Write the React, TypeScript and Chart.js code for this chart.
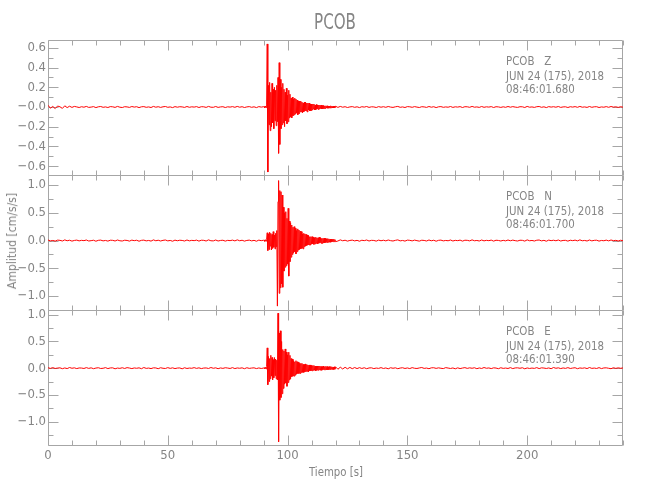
import React, { useEffect, useRef } from 'react';
import { Chart, registerables } from 'chart.js';

Chart.register(...registerables);

// ---------- time grid of the traces (seconds) ----------
const PRE_START = 0;
const PRE_STEP = 1;
const ACTIVE_START = 90.25;
const ACTIVE_STEP = 0.25;
const CODA_START = 121;
const CODA_STEP = 1;

// ---------- axes ----------
const X_MIN = 0;
const X_MAX = 240;
const xMajorTicks = [0, 50, 100, 150, 200];
const xMinorTicks = [10, 20, 30, 40, 60, 70, 80, 90, 110, 120, 130, 140, 160, 170, 180, 190, 210, 220, 230, 240];

const zRange = [-0.69, 0.68];
const zTicks = [0.6, 0.4, 0.2, 0, -0.2, -0.4, -0.6];
const zTickLabels = ['0.6', '0.4', '0.2', '\u22120.0', '\u22120.2', '\u22120.4', '\u22120.6'];
const zMinorTicks = [0.5, 0.3, 0.1, -0.1, -0.3, -0.5];

const nRange = [-1.25, 1.18];
const nTicks = [1.0, 0.5, 0, -0.5, -1.0];
const nTickLabels = ['1.0', '0.5', '0.0', '\u22120.5', '\u22121.0'];
const nMinorTicks = [0.75, 0.25, -0.25, -0.75];

const eRange = [-1.44, 1.09];
const eTicks = [1.0, 0.5, 0, -0.5, -1.0];
const eTickLabels = ['1.0', '0.5', '0.0', '\u22120.5', '\u22121.0'];
const eMinorTicks = [0.75, 0.25, -0.25, -0.75, -1.25];

// ---------- texts ----------
const TITLE = 'PCOB';
const X_TITLE = 'Tiempo [s]';
const Y_TITLE = 'Amplitud [cm/s/s]';
const zInfo = ['PCOB   Z', 'JUN 24 (175), 2018', '08:46:01.680'];
const nInfo = ['PCOB   N', 'JUN 24 (175), 2018', '08:46:01.700'];
const eInfo = ['PCOB   E', 'JUN 24 (175), 2018', '08:46:01.390'];

// ---------- Z component (cm/s/s) ----------
const zPre = [
  0.018, -0.012, 0.006, -0.016, 0.01, 0.002, -0.014, 0.012, -0.006, 0.008,
  -0.004, 0.006, 0.001, -0.005, 0.003, -0.002, 0.006, -0.004, -0.001, 0.004,
  -0.006, 0.002, 0.005, -0.003, 0.001, -0.005, 0.004, 0.002, -0.004, 0.006,
  -0.002, -0.005, 0.003, 0.001, -0.004, 0.005, -0.001, 0.003, -0.006, 0.002,
  0.004, -0.003, 0.001, -0.005, 0.006, -0.002, 0.003, -0.004, 0.002, 0.005,
  -0.003, 0.001, -0.006, 0.004, -0.002, 0.003, 0.001, -0.004, 0.005, -0.003,
  0.002, -0.001, 0.004, -0.005, 0.003, 0.002, -0.004, 0.006, -0.002, -0.003,
  0.005, -0.004, 0.001, 0.003, -0.005, 0.002, -0.001, 0.004, -0.003, 0.006,
  -0.002, 0.003, -0.005, 0.001, 0.004, -0.003, 0.002, -0.006, 0.004, -0.001, 0.003,
];
const zActive = [
  0.005, -0.008, 0.01, -0.006, 0.03, 0.64, -0.66, 0.22, -0.18, 0.25,
  -0.24, 0.15, -0.2, 0.24, -0.16, 0.18, -0.22, 0.2, -0.14, 0.17,
  -0.19, 0.22, -0.15, 0.3, -0.47, 0.45, -0.38, 0.28, -0.22, 0.2,
  -0.18, 0.24, -0.16, 0.18, -0.2, 0.15, -0.14, 0.19, -0.17, 0.12,
  -0.15, 0.17, -0.11, 0.13, -0.1, 0.09, -0.11, 0.1, -0.09, 0.08,
  -0.08, 0.09, -0.07, 0.08, -0.06, 0.07, -0.08, 0.06, -0.07, 0.06,
  -0.05, 0.06, -0.05, 0.05, -0.06, 0.04, -0.05, 0.05, -0.04, 0.05,
  -0.04, 0.04, -0.05, 0.04, -0.03, 0.04, -0.04, 0.03, -0.04, 0.03,
  -0.03, 0.03, -0.02, 0.03, -0.03, 0.02, -0.03, 0.025, -0.02, 0.02,
  -0.025, 0.02, -0.02, 0.02, -0.015, 0.02, -0.02, 0.015, -0.02, 0.015,
  -0.015, 0.012, -0.015, 0.012, -0.01, 0.012, -0.012, 0.01, -0.012, 0.01,
  -0.01, 0.012, -0.008, 0.01, -0.01, 0.008, -0.01, 0.008, -0.007, 0.008,
];
const zCoda = [
  -0.004, 0.006, -0.002, 0.003, -0.005, 0.001, 0.004, -0.003, 0.002, -0.006,
  0.003, -0.001, 0.005, -0.004, 0.002, 0.001, -0.005, 0.004, -0.002, 0.003,
  -0.003, 0.005, -0.001, -0.004, 0.002, 0.006, -0.003, 0.001, -0.005, 0.004,
  0.002, -0.003, 0.004, -0.001, -0.005, 0.003, 0.001, -0.004, 0.005, -0.002,
  0.003, -0.006, 0.002, 0.004, -0.003, 0.001, -0.002, 0.005, -0.004, 0.002,
  -0.001, 0.004, -0.005, 0.003, 0.002, -0.003, 0.006, -0.002, 0.001, -0.004,
  0.005, -0.003, 0.002, -0.001, 0.004, -0.005, 0.003, 0.001, -0.004, 0.002,
  -0.003, 0.005, -0.002, 0.004, -0.001, -0.004, 0.003, 0.002, -0.005, 0.006,
  -0.002, 0.001, -0.004, 0.003, 0.005, -0.003, 0.002, -0.006, 0.004, -0.001,
  0.003, -0.002, 0.005, -0.004, 0.001, 0.002, -0.005, 0.003, -0.001, 0.004,
  -0.003, 0.006, -0.002, 0.001, -0.004, 0.005, -0.003, 0.002, 0.003, -0.005,
  0.001, -0.002, 0.004, -0.003, 0.005, -0.001, 0.002, -0.004, 0.003, -0.002,
  0.004, -0.003, 0.001, -0.002, 0.003,
];

// ---------- N component (cm/s/s) ----------
const nPre = [
  0.01, -0.006, 0.002, -0.01, 0.008, 0.004, -0.008, 0.012, -0.004, 0.006,
  -0.01, 0.002, 0.008, -0.006, 0.004, -0.002, 0.01, -0.008, -0.002, 0.006,
  -0.012, 0.004, 0.008, -0.006, 0.002, -0.01, 0.006, 0.004, -0.008, 0.01,
  -0.004, -0.008, 0.006, 0.002, -0.01, 0.008, -0.002, 0.006, -0.012, 0.004,
  0.008, -0.006, 0.002, -0.01, 0.012, -0.004, 0.006, -0.008, 0.004, 0.01,
  -0.006, 0.002, -0.012, 0.008, -0.004, 0.006, 0.002, -0.008, 0.01, -0.006,
  0.004, -0.002, 0.008, -0.01, 0.006, 0.004, -0.008, 0.012, -0.004, -0.006,
  0.01, -0.008, 0.002, 0.006, -0.01, 0.004, -0.002, 0.008, -0.006, 0.012,
  -0.004, 0.006, -0.01, 0.002, 0.008, -0.006, 0.004, -0.012, 0.008, -0.002, 0.006,
];
const nActive = [
  0.01, -0.015, 0.015, -0.01, 0.02, 0.14, -0.18, 0.12, -0.16, 0.15,
  -0.1, 0.13, -0.17, 0.11, -0.14, 0.16, -0.12, 0.1, -0.15, 0.13,
  -0.11, 0.18, -1.18, 0.7, 1.08, -0.95, 0.9, -0.85, 0.88, -0.78,
  0.82, -0.84, 0.6, -0.55, 0.5, -0.48, 0.52, -0.45, 0.4, -0.42,
  0.58, -0.64, 0.35, -0.38, 0.32, -0.3, 0.28, -0.25, 0.24, -0.22,
  0.25, -0.2, 0.22, -0.24, 0.18, -0.2, 0.21, -0.17, 0.19, -0.16,
  0.17, -0.15, 0.16, -0.14, 0.12, -0.15, 0.13, -0.11, 0.12, -0.1,
  0.11, -0.09, 0.1, -0.08, 0.09, -0.08, 0.07, -0.08, 0.07, -0.06,
  0.07, -0.06, 0.06, -0.07, 0.05, -0.06, 0.06, -0.05, 0.05, -0.06,
  0.05, -0.05, 0.06, -0.04, 0.05, -0.05, 0.04, -0.05, 0.04, -0.04,
  0.045, -0.04, 0.04, -0.035, 0.03, -0.035, 0.035, -0.03, 0.03, -0.03,
  0.025, -0.03, 0.025, -0.025, 0.02, -0.02, 0.025, -0.02, 0.018, -0.02,
];
const nCoda = [
  -0.008, 0.012, -0.004, 0.006, -0.01, 0.002, 0.008, -0.006, 0.004, -0.012,
  0.006, -0.002, 0.01, -0.008, 0.004, 0.002, -0.01, 0.008, -0.004, 0.006,
  -0.006, 0.01, -0.002, -0.008, 0.004, 0.012, -0.006, 0.002, -0.01, 0.008,
  0.004, -0.006, 0.008, -0.002, -0.01, 0.006, 0.002, -0.008, 0.01, -0.004,
  0.006, -0.012, 0.004, 0.008, -0.006, 0.002, -0.004, 0.01, -0.008, 0.004,
  -0.002, 0.008, -0.01, 0.006, 0.004, -0.006, 0.012, -0.004, 0.002, -0.008,
  0.01, -0.006, 0.004, -0.002, 0.008, -0.01, 0.006, 0.002, -0.008, 0.004,
  -0.006, 0.01, -0.004, 0.008, -0.002, -0.008, 0.006, 0.004, -0.01, 0.012,
  -0.004, 0.002, -0.008, 0.006, 0.01, -0.006, 0.004, -0.012, 0.008, -0.002,
  0.006, -0.004, 0.01, -0.008, 0.002, 0.004, -0.01, 0.006, -0.002, 0.008,
  -0.006, 0.012, -0.004, 0.002, -0.008, 0.01, -0.006, 0.004, 0.006, -0.01,
  0.002, -0.004, 0.008, -0.006, 0.01, -0.002, 0.004, -0.008, 0.006, -0.004,
  0.008, -0.006, 0.002, -0.004, 0.006,
];

// ---------- E component (cm/s/s) ----------
const ePre = [
  0.008, -0.004, 0.01, -0.006, 0.002, 0.006, -0.01, 0.004, -0.008, 0.012,
  -0.002, 0.006, -0.008, 0.004, 0.002, -0.006, 0.01, -0.004, 0.006, -0.01,
  0.002, 0.008, -0.006, -0.002, 0.01, -0.008, 0.004, 0.006, -0.012, 0.002,
  -0.004, 0.008, -0.006, 0.01, 0.002, -0.008, 0.004, -0.002, 0.006, -0.01,
  0.012, -0.004, 0.002, -0.008, 0.006, 0.004, -0.01, 0.008, -0.002, -0.006,
  0.01, -0.004, 0.006, -0.008, 0.002, 0.004, -0.012, 0.008, -0.006, 0.002,
  -0.002, 0.01, -0.004, 0.006, -0.008, 0.002, 0.004, -0.006, 0.012, -0.002,
  0.006, -0.01, 0.004, -0.004, 0.008, 0.002, -0.006, 0.01, -0.008, 0.004,
  -0.002, 0.006, -0.01, 0.008, -0.004, 0.002, 0.006, -0.008, 0.004, -0.006, 0.002,
];
const eActive = [
  0.01, -0.01, 0.015, -0.015, 0.03, 0.38, -0.31, 0.22, -0.25, 0.18,
  -0.2, 0.24, -0.15, 0.2, -0.22, 0.16, -0.18, 0.2, -0.14, 0.17,
  -0.2, 0.15, -0.22, 1.03, -1.38, 0.66, -0.6, 0.7, -0.55, 0.5,
  -0.48, 0.35, -0.38, 0.32, -0.3, 0.36, -0.28, 0.3, -0.34, 0.25,
  -0.27, 0.3, -0.22, 0.24, -0.2, 0.18, -0.16, 0.17, -0.15, 0.14,
  -0.15, 0.12, -0.13, 0.14, -0.11, 0.12, -0.1, 0.11, -0.1, 0.09,
  -0.1, 0.09, -0.08, 0.09, -0.08, 0.07, -0.08, 0.07, -0.07, 0.08,
  -0.06, 0.07, -0.06, 0.06, -0.07, 0.06, -0.05, 0.06, -0.05, 0.05,
  -0.05, 0.05, -0.04, 0.05, -0.04, 0.04, -0.05, 0.04, -0.04, 0.04,
  -0.04, 0.04, -0.03, 0.04, -0.04, 0.03, -0.04, 0.03, -0.03, 0.04,
  -0.03, 0.03, -0.03, 0.035, -0.03, 0.03, -0.03, 0.025, -0.03, 0.03,
  -0.025, 0.03, -0.02, 0.025, -0.025, 0.02, -0.025, 0.025, -0.02, 0.025,
];
const eCoda = [
  -0.02, 0.018, -0.015, 0.016, -0.012, 0.014, -0.01, 0.012, -0.008, 0.01,
  -0.006, 0.008, -0.01, 0.004, 0.006, -0.008, 0.002, -0.004, 0.01, -0.006,
  0.004, -0.012, 0.008, -0.002, 0.006, -0.01, 0.002, 0.008, -0.006, 0.004,
  -0.008, 0.01, -0.002, -0.006, 0.004, 0.012, -0.004, 0.002, -0.01, 0.006,
  0.008, -0.004, 0.006, -0.002, -0.008, 0.01, 0.002, -0.006, 0.004, -0.012,
  0.006, -0.008, 0.002, 0.01, -0.004, 0.006, -0.002, 0.008, -0.01, 0.004,
  -0.006, 0.012, -0.002, 0.004, -0.008, 0.006, 0.002, -0.01, 0.008, -0.004,
  0.002, -0.006, 0.01, -0.008, 0.004, 0.006, -0.002, 0.008, -0.012, 0.004,
  -0.006, 0.002, -0.004, 0.01, -0.008, 0.006, 0.002, -0.006, 0.004, -0.01,
  0.012, -0.002, 0.006, -0.008, 0.004, -0.004, 0.01, -0.006, 0.002, 0.008,
  -0.01, 0.004, -0.002, 0.006, -0.008, 0.012, -0.004, 0.002, -0.006, 0.01,
  -0.008, 0.004, 0.006, -0.002, -0.01, 0.008, -0.004, 0.006, -0.002, 0.004,
  -0.006, 0.008, -0.002, 0.004, -0.006,
];

// ---------- styling ----------
const FONT = "'Liberation Sans Narrow', 'Arial Narrow', 'DejaVu Sans Condensed', sans-serif";
const TEXT = '#858585';
const AXIS = '#a6a6a6';
const TRACE = '#ff0000';

function buildPoints(pre: number[], active: number[], coda: number[]) {
  const pts: { x: number; y: number }[] = [];
  pre.forEach((v, i) => pts.push({ x: PRE_START + i * PRE_STEP, y: v }));
  active.forEach((v, i) => pts.push({ x: ACTIVE_START + i * ACTIVE_STEP, y: v }));
  coda.forEach((v, i) => pts.push({ x: CODA_START + i * CODA_STEP, y: v }));
  return pts;
}

const framePlugin = {
  id: 'frame',
  beforeDatasetsDraw(chart: any, _args: any, opts: any) {
    const { ctx, chartArea } = chart;
    const xs = chart.scales.x;
    const ys = chart.scales.y;
    const L = Math.round(chartArea.left) + 0.5;
    const R = Math.round(chartArea.right) - 0.5;
    const T = Math.round(chartArea.top) + 0.5;
    const B = Math.round(chartArea.bottom) + 0.5;
    ctx.save();
    ctx.strokeStyle = AXIS;
    ctx.lineWidth = 1;
    ctx.beginPath();
    ctx.rect(L, T, R - L, B - T);
    const xTick = (v: number, len: number) => {
      const X = Math.round(xs.getPixelForValue(v)) + 0.5;
      ctx.moveTo(X, B); ctx.lineTo(X, B - len);
      ctx.moveTo(X, T); ctx.lineTo(X, T + len);
    };
    const yTick = (v: number, len: number) => {
      const Y = Math.round(ys.getPixelForValue(v)) + 0.5;
      ctx.moveTo(L, Y); ctx.lineTo(L + len, Y);
      ctx.moveTo(R, Y); ctx.lineTo(R - len, Y);
    };
    xMajorTicks.forEach((v) => xTick(v, 10));
    xMinorTicks.forEach((v) => xTick(v, 5));
    (opts.yMajor || []).forEach((v: number) => yTick(v, 10));
    (opts.yMinor || []).forEach((v: number) => yTick(v, 5));
    ctx.stroke();
    ctx.restore();
  },
};

type PanelCfg = {
  top: number;
  height: number;
  bottomPad: number;
  showX: boolean;
  points: { x: number; y: number }[];
  range: number[];
  ticks: number[];
  labels: string[];
  minor: number[];
};

function Panel({ cfg }: { cfg: PanelCfg }) {
  const ref = useRef<HTMLCanvasElement | null>(null);
  useEffect(() => {
    if (!ref.current) return;
    const chart = new Chart(ref.current, {
      type: 'line',
      data: {
        datasets: [
          {
            data: cfg.points,
            borderColor: TRACE,
            borderWidth: 1,
            pointRadius: 0,
            tension: 0,
            fill: false,
          },
        ],
      },
      options: {
        animation: false,
        responsive: false,
        events: [],
        layout: { padding: { left: 0, right: 27, top: 15, bottom: cfg.bottomPad } },
        plugins: {
          legend: { display: false },
          tooltip: { enabled: false },
          title: { display: false },
          frame: { yMajor: cfg.ticks, yMinor: cfg.minor },
        } as any,
        scales: {
          x: {
            type: 'linear',
            min: X_MIN,
            max: X_MAX,
            display: cfg.showX,
            grid: { display: false, drawTicks: false },
            border: { display: false },
            afterFit: (s: any) => { if (cfg.showX) s.height = 20; },
            afterBuildTicks: (s: any) => { s.ticks = xMajorTicks.map((v) => ({ value: v })); },
            ticks: {
              color: TEXT,
              font: { family: FONT, size: 13 },
              padding: 3,
              maxRotation: 0,
              autoSkip: false,
              callback: (v: any) => String(v),
            },
          },
          y: {
            type: 'linear',
            min: cfg.range[0],
            max: cfg.range[1],
            grid: { display: false, drawTicks: false },
            border: { display: false },
            afterFit: (s: any) => { s.width = 48; },
            afterBuildTicks: (s: any) => { s.ticks = cfg.ticks.map((v) => ({ value: v })); },
            ticks: {
              color: TEXT,
              font: { family: FONT, size: 13 },
              padding: 2,
              autoSkip: false,
              callback: (v: any) => {
                const i = cfg.ticks.findIndex((t) => Math.abs(t - Number(v)) < 1e-9);
                return i >= 0 ? cfg.labels[i] : '';
              },
            },
          },
        },
      } as any,
      plugins: [framePlugin],
    });
    return () => chart.destroy();
  }, []);
  return (
    <canvas
      ref={ref}
      width={650}
      height={cfg.height}
      style={{ position: 'absolute', left: 0, top: cfg.top, width: 650, height: cfg.height }}
    />
  );
}

const txt: React.CSSProperties = {
  position: 'absolute',
  fontFamily: FONT,
  color: TEXT,
  whiteSpace: 'pre',
  margin: 0,
};

function Info({ lines, top }: { lines: string[]; top: number }) {
  const offsets = [21, 35.5, 49];
  return (
    <>
      {lines.map((l, i) => (
        <div
          key={i}
          style={{
            ...txt,
            left: 506,
            top: top + offsets[i] - 8,
            height: 16,
            lineHeight: '16px',
            fontSize: 12,
            transform: 'scaleX(0.95)',
            transformOrigin: 'left center',
          }}
        >
          {l}
        </div>
      ))}
    </>
  );
}

export default function App() {
  useEffect(() => {
    document.body.style.margin = '0';
    document.body.style.background = '#ffffff';
  }, []);

  const panels: PanelCfg[] = [
    { top: 25, height: 165, bottomPad: 15, showX: false, points: buildPoints(zPre, zActive, zCoda), range: zRange, ticks: zTicks, labels: zTickLabels, minor: zMinorTicks },
    { top: 160, height: 165, bottomPad: 15, showX: false, points: buildPoints(nPre, nActive, nCoda), range: nRange, ticks: nTicks, labels: nTickLabels, minor: nMinorTicks },
    { top: 295, height: 175, bottomPad: 5, showX: true, points: buildPoints(ePre, eActive, eCoda), range: eRange, ticks: eTicks, labels: eTickLabels, minor: eMinorTicks },
  ];

  return (
    <div style={{ position: 'relative', width: 650, height: 500, background: '#fff', overflow: 'hidden' }}>
      {panels.map((p, i) => (
        <Panel key={i} cfg={p} />
      ))}
      <div style={{ ...txt, left: 335, top: 22, transform: 'translate(-50%, -50%) scaleX(0.8)', fontSize: 21, lineHeight: '24px' }}>{TITLE}</div>
      <div style={{ ...txt, left: 336, top: 472, transform: 'translate(-50%, -50%) scaleX(0.87)', fontSize: 13, lineHeight: '16px' }}>{X_TITLE}</div>
      <div style={{ ...txt, left: 12, top: 241, transform: 'translate(-50%, -50%) rotate(-90deg) scaleX(0.93)', fontSize: 13, lineHeight: '16px' }}>{Y_TITLE}</div>
      <Info lines={zInfo} top={40} />
      <Info lines={nInfo} top={175} />
      <Info lines={eInfo} top={310} />
    </div>
  );
}
